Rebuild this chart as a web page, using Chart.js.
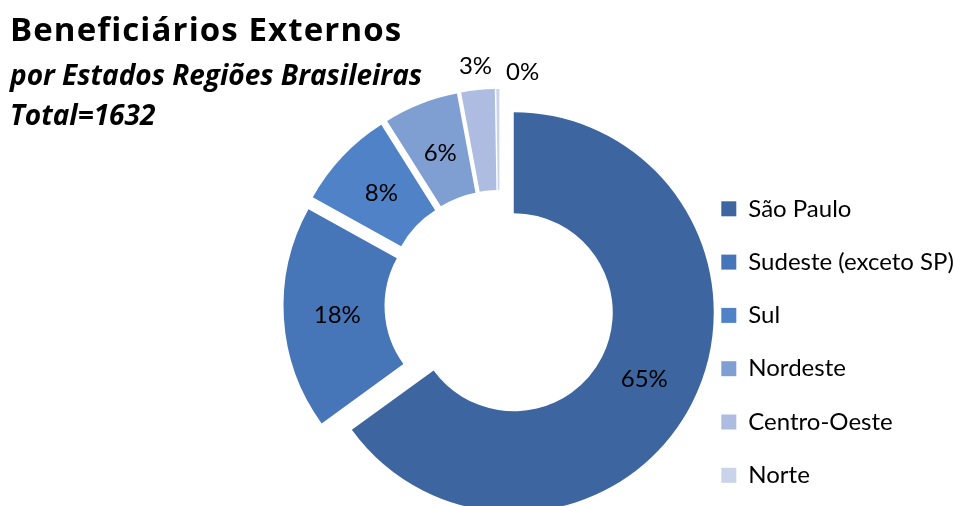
<!DOCTYPE html>
<html>
<head>
<meta charset="utf-8">
<script src="https://cdn.jsdelivr.net/npm/chart.js@4/dist/chart.umd.min.js"></script>
<style>
  html, body { margin: 0; background: #fff; overflow: hidden; }
  #wrap { position: relative; width: 956px; height: 526px; }
  .head { position: absolute; left: 10px; color: #000; font-family: "Open Sans", sans-serif; line-height: 1; white-space: nowrap; font-weight: bold; }
  #t1 { top: 12px; font-size: 33px; letter-spacing: 1.1px; }
  #t2 { top: 60px; font-size: 28px; font-style: italic; }
  #t3 { top: 100px; font-size: 28px; font-style: italic; }
</style>
</head>
<body>
<div id="wrap">
  <canvas id="myChart" width="956" height="526"></canvas>
  <div class="head" id="t1">Beneficiários Externos</div>
  <div class="head" id="t2">por Estados Regiões Brasileiras</div>
  <div class="head" id="t3">Total=1632</div>
</div>
<script>
// beneficiaries by region
var regions = ['São Paulo', 'Sudeste (exceto SP)', 'Sul', 'Nordeste', 'Centro-Oeste', 'Norte'];
var counts = [1061, 294, 131, 98, 44, 4];
var colors = ['#3d66a0', '#4676b8', '#4f82c7', '#7f9fd3', '#adbce0', '#c9d3ea'];

var total = counts.reduce(function (a, b) { return a + b; }, 0);

// move every slice out from the centre (exploded doughnut)
var explode = {
    id: 'explode',
    afterDatasetUpdate: function (chart, args) {
        args.meta.data.forEach(function (arc) {
            var mid = (arc.startAngle + arc.endAngle) / 2;
            arc.x += Math.cos(mid) * 16;
            arc.y += Math.sin(mid) * 16;
        });
    }
};

// percentage labels, small slices outside the ring
var pctLabels = {
    id: 'pctLabels',
    afterDatasetsDraw: function (chart) {
        var ctx = chart.ctx;
        var meta = chart.getDatasetMeta(0);
        var prevRight = -Infinity;
        ctx.save();
        ctx.font = '24px Lato';
        ctx.fillStyle = '#000';
        ctx.textAlign = 'center';
        ctx.textBaseline = 'middle';
        meta.data.forEach(function (arc, i) {
            var share = counts[i] / total;
            var text = Math.round(share * 100) + '%';
            var mid = (arc.startAngle + arc.endAngle) / 2;
            var outside = share < 0.04;
            var r = outside ? arc.outerRadius + 24 : (arc.innerRadius + arc.outerRadius) / 2 - 3;
            var x = arc.x + Math.cos(mid) * r;
            var y = arc.y + Math.sin(mid) * r;
            var w = ctx.measureText(text).width;
            if (outside) {
                if (x - w / 2 < prevRight + 14) {
                    x = prevRight + 14 + w / 2;
                    y += 7;
                }
                prevRight = x + w / 2;
            }
            ctx.fillText(text, x, y);
        });
        ctx.restore();
    }
};

var ctx = document.getElementById('myChart').getContext('2d');
var myChart = new Chart(ctx, {
    type: 'doughnut',
    data: {
        labels: regions,
        datasets: [{
            data: counts,
            backgroundColor: colors,
            borderWidth: 0,
            clip: false
        }]
    },
    options: {
        responsive: false,
        animation: false,
        events: [],
        radius: 200,
        cutout: '49.5%',
        layout: {
            padding: { left: 307, right: 0, top: 84, bottom: 0 }
        },
        plugins: {
            tooltip: { enabled: false },
            legend: {
                position: 'right',
                align: 'start',
                maxWidth: 264,
                title: {
                    display: true,
                    text: '',
                    font: { size: 10 },
                    padding: { top: 71.5, bottom: 0 }
                },
                labels: {
                    boxWidth: 15,
                    boxHeight: 15,
                    padding: 29.3,
                    color: '#000',
                    font: { family: 'Lato', size: 24 }
                }
            }
        }
    },
    plugins: [explode, pctLabels]
});
</script>
</body>
</html>
